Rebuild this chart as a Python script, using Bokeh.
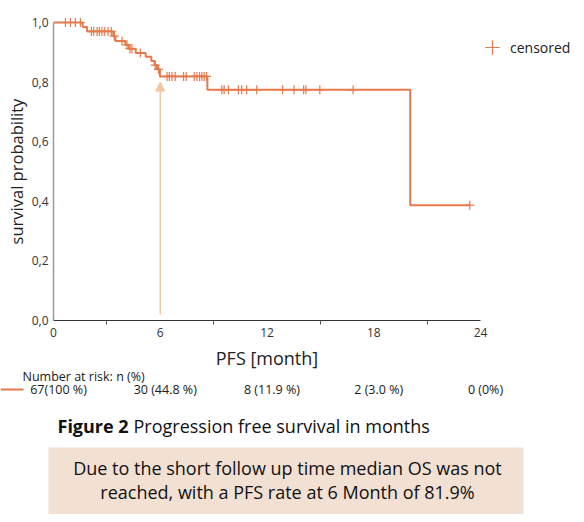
import numpy as np
from bokeh.plotting import figure
from bokeh.models import (Range1d, FixedTicker, CustomJSTickFormatter, Arrow, NormalHead,
                          Legend, LegendItem)
from bokeh.core.properties import value
from bokeh.embed import file_html
from bokeh.resources import INLINE

# ---------------- data ----------------
step_time = [0, 1.64, 1.89, 3.36, 3.48, 4.04, 4.23, 4.62, 5.18, 5.50, 5.68, 5.82, 5.98, 8.65, 20.05]
step_surv = [1.0, 0.985, 0.970, 0.954, 0.938, 0.925, 0.912, 0.898, 0.885, 0.871, 0.857, 0.843, 0.819, 0.774, 0.387]
end_time = 23.4

censor_time = [0.67, 0.95, 1.23, 1.51,
               2.13, 2.26, 2.45, 2.58, 2.73, 2.88, 3.07, 3.25,
               3.42, 3.85, 4.13, 4.30, 4.41, 4.88, 5.72, 5.90,
               6.38, 6.51, 6.66, 6.84, 7.31, 7.46, 7.91, 8.06, 8.21, 8.34, 8.47, 8.60,
               9.46, 9.59, 9.83, 10.39, 10.58, 10.86, 11.42, 12.88, 13.52, 14.06, 14.19, 14.97, 16.84,
               23.4]

x_ticks = [0, 6, 12, 18, 24]
x_minor_ticks = [3, 9, 15, 21]
y_ticks = [0.0, 0.2, 0.4, 0.6, 0.8, 1.0]
x_title = "PFS [month]"
y_title = "survival probability"

risk_times = [0, 6, 12, 18, 24]
risk_labels = ["67(100 %)", "30 (44.8 %)", "8 (11.9 %)", "2 (3.0 %)", "0 (0%)"]
risk_title = "Number at risk: n (%)"

marker_time = 6
marker_surv = [0.02, 0.80]

caption_bold = "Figure 2"
caption_rest = "Progression free survival in months"
note_lines = ["Due to the short follow up time median OS was not",
              "reached, with a PFS rate at 6 Month of 81.9%"]

# ---------------- styles ----------------
ORANGE = "#E47A4C"
ARROW = "#F5C4A2"
BOXFILL = "#F2E0D3"
FONT = "Open Sans"
TXT = "#1a1a1a"

# ---------------- geometry (picture pixels -> data) ----------------
W, H = 576, 514
X0_PX, PX_PER_MONTH = 53.0, 427.0 / 24
Y0_PX, PX_PER_UNIT = 320.0, 298.0


def px_x(x_px):
    return (x_px - X0_PX) / PX_PER_MONTH


def py(y_px):
    return (Y0_PX - y_px) / PX_PER_UNIT


p = figure(width=W, height=H,
           x_range=Range1d(px_x(0), px_x(W)),
           y_range=Range1d(py(H), py(0)),
           output_backend="svg", toolbar_location=None, min_border=0)
p.outline_line_color = None
p.xgrid.visible = False
p.ygrid.visible = False

# note box (behind everything)
p.quad(left=[px_x(48)], right=[px_x(523)], top=[py(447)], bottom=[py(540)],
       fill_color=BOXFILL, line_color=None)

# survival curve
xs = list(step_time) + [end_time]
ys = list(step_surv) + [step_surv[-1]]
p.step(xs, ys, mode="after", line_color=ORANGE, line_width=2)

st = np.array(step_time)
sv = np.array(step_surv)
cy = [sv[np.searchsorted(st, t, side="right") - 1] for t in censor_time]
cr = p.scatter(censor_time, cy, marker="cross", size=9, line_color=ORANGE, line_width=1.2)

p.add_layout(Arrow(end=NormalHead(size=9, fill_color=ARROW, line_color=ARROW),
                   x_start=marker_time, y_start=marker_surv[0],
                   x_end=marker_time, y_end=marker_surv[1],
                   line_color=ARROW, line_width=1.5))

# axes, pinned at the origin
xa = p.xaxis[0]
xa.fixed_location = 0
xa.ticker = FixedTicker(ticks=x_ticks, minor_ticks=x_minor_ticks)
xa.bounds = (x_ticks[0], x_ticks[-1])
xa.axis_line_color = "#333333"
xa.axis_line_width = 1.2
xa.major_tick_line_color = None
xa.major_tick_out = 0
xa.major_tick_in = 0
xa.minor_tick_line_color = "#555555"
xa.minor_tick_out = 4
xa.minor_tick_in = 0
xa.major_label_text_font = FONT
xa.major_label_text_font_size = "12px"
xa.major_label_text_color = "#333333"
xa.major_label_standoff = 3

ya = p.yaxis[0]
ya.fixed_location = 0
ya.ticker = FixedTicker(ticks=y_ticks)
ya.bounds = (y_ticks[0], y_ticks[-1])
ya.formatter = CustomJSTickFormatter(code="return tick.toFixed(1).replace('.', ',');")
ya.axis_line_color = "#9a9a9a"
ya.axis_line_width = 1.5
ya.major_tick_line_color = None
ya.minor_tick_line_color = None
ya.major_tick_out = 0
ya.major_tick_in = 0
ya.major_label_text_font = FONT
ya.major_label_text_font_size = "12px"
ya.major_label_text_color = "#333333"
ya.major_label_standoff = 5

# axis titles, centred on the axis extents
p.text(x=[(x_ticks[0] + x_ticks[-1]) / 2], y=[py(357)], text=[x_title], text_font=value(FONT),
       text_font_size="18px", text_align="center", text_baseline="middle", text_color="#222222")
p.text(x=[px_x(16)], y=[(y_ticks[0] + y_ticks[-1]) / 2], text=[y_title], text_font=value(FONT),
       text_font_size="16.5px", text_align="center", text_baseline="middle", angle=np.pi / 2,
       text_color="#222222")

# legend
leg = Legend(items=[LegendItem(label="censored", renderers=[cr])],
             location=(474, 449), glyph_width=36, glyph_height=36,
             label_text_font=FONT, label_text_font_size="14px", label_text_color="#222222",
             padding=0, spacing=0, margin=0, label_standoff=-10,
             border_line_color=None, background_fill_alpha=0)
p.add_layout(leg)

# number at risk
p.text(x=[px_x(22)], y=[py(376)], text=[risk_title], text_font=value(FONT), text_font_size="12.5px",
       text_align="left", text_baseline="middle", text_color=TXT)
p.line(x=[px_x(0), px_x(23)], y=[py(389)] * 2, line_color=ORANGE, line_width=2)
p.text(x=risk_times, y=[py(389)] * len(risk_times), text=risk_labels, text_font=value(FONT),
       text_font_size="12.5px", text_align="center", text_baseline="middle", x_offset=5,
       text_color=TXT)

# caption
p.text(x=[px_x(57)], y=[py(425)], text=[caption_bold], text_font=value(FONT), text_font_size="18px",
       text_font_style="bold", text_align="left", text_baseline="middle", text_color="#111111")
p.text(x=[px_x(133)], y=[py(425)], text=[caption_rest], text_font=value(FONT), text_font_size="18px",
       text_align="left", text_baseline="middle", text_color="#111111")

# note text
p.text(x=[px_x(287)] * 2, y=[py(467), py(491)], text=note_lines, text_font=value(FONT),
       text_font_size="18px", text_align="center", text_baseline="middle", text_color="#111111")

open("out.html", "w").write(file_html(p, INLINE))
